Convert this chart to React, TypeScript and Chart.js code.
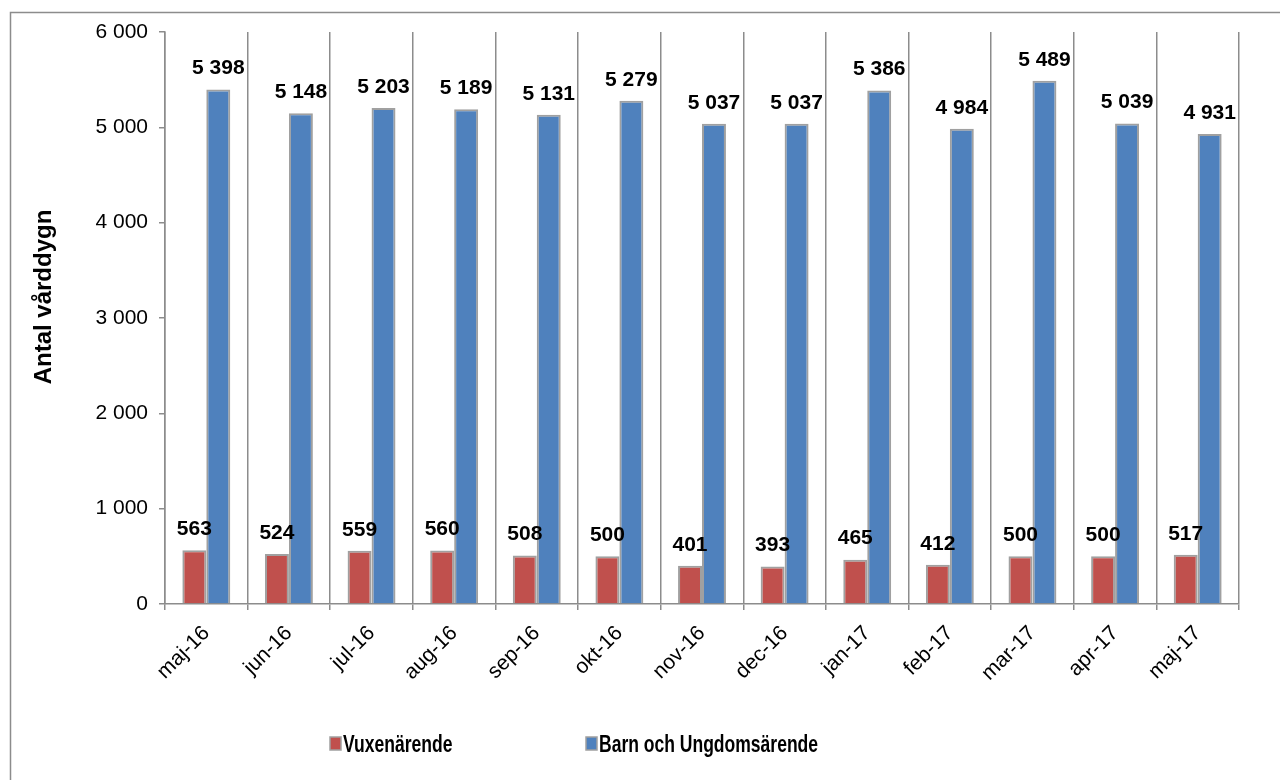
import React, { useEffect, useRef } from 'react';
import { Chart, registerables } from 'chart.js';

Chart.register(...registerables);

const categories = ['maj-16', 'jun-16', 'jul-16', 'aug-16', 'sep-16', 'okt-16', 'nov-16', 'dec-16', 'jan-17', 'feb-17', 'mar-17', 'apr-17', 'maj-17'];
const vuxenValues = [563, 524, 559, 560, 508, 500, 401, 393, 465, 412, 500, 500, 517];
const barnValues = [5398, 5148, 5203, 5189, 5131, 5279, 5037, 5037, 5386, 4984, 5489, 5039, 4931];
const seriesNames = ['Vuxenärende', 'Barn och Ungdomsärende'];
const seriesColors = ['#C0504D', '#4F81BD'];
const yAxisTitle = 'Antal vårddygn';
const yMin = 0;
const yMax = 6000;
const yStep = 1000;

const FONT = '"Liberation Sans", Arial, Helvetica, sans-serif';
const GRAY = '#8C8C8C';

const fmt = (v: number) => String(v).replace(/\B(?=(\d{3})+(?!\d))/g, ' ');

const framePlugin = {
  id: 'frame',
  beforeDraw(chart: any) {
    const ctx = chart.ctx;
    ctx.save();
    ctx.fillStyle = '#ffffff';
    ctx.fillRect(0, 0, chart.width, chart.height);
    ctx.strokeStyle = GRAY;
    ctx.lineWidth = 1.5;
    ctx.beginPath();
    ctx.moveTo(10.5, chart.height);
    ctx.lineTo(10.5, 12.5);
    ctx.lineTo(chart.width, 12.5);
    ctx.stroke();
    ctx.restore();
  },
};

const yTitlePlugin = {
  id: 'yTitle',
  afterDraw(chart: any) {
    const ctx = chart.ctx;
    ctx.save();
    ctx.translate(44, 297);
    ctx.rotate(-Math.PI / 2);
    ctx.font = `bold 24px ${FONT}`;
    ctx.fillStyle = '#000';
    ctx.textAlign = 'center';
    ctx.textBaseline = 'middle';
    ctx.fillText(yAxisTitle, 0, 0);
    ctx.restore();
  },
};

const valueLabelPlugin = {
  id: 'valueLabels',
  afterDatasetsDraw(chart: any) {
    const ctx = chart.ctx;
    ctx.save();
    ctx.font = `bold 21px ${FONT}`;
    ctx.fillStyle = '#000';
    ctx.textAlign = 'center';
    ctx.textBaseline = 'middle';
    chart.data.datasets.forEach((ds: any, i: number) => {
      const meta = chart.getDatasetMeta(i);
      meta.data.forEach((el: any, j: number) => {
        const { x, y } = el.getProps(['x', 'y'], true);
        ctx.fillText(fmt(ds.data[j]), x, y - 21);
      });
    });
    ctx.restore();
  },
};

const legendPlugin = {
  id: 'customLegend',
  afterDraw(chart: any) {
    const ctx = chart.ctx;
    const items = chart.data.datasets;
    const xs = [330, 586];
    const y = 745;
    ctx.save();
    items.forEach((ds: any, i: number) => {
      const bx = xs[i];
      ctx.fillStyle = ds.backgroundColor;
      ctx.fillRect(bx, y - 8, 11, 13);
      ctx.strokeStyle = '#A0A0A0';
      ctx.lineWidth = 1.5;
      ctx.strokeRect(bx, y - 8, 11, 13);
      ctx.save();
      ctx.translate(bx + 13, y);
      ctx.scale(0.73, 1);
      ctx.font = `bold 24px ${FONT}`;
      ctx.fillStyle = '#000';
      ctx.textAlign = 'left';
      ctx.textBaseline = 'middle';
      ctx.fillText(ds.label, 0, 0);
      ctx.restore();
    });
    ctx.restore();
  },
};

export default function App() {
  const canvasRef = useRef<HTMLCanvasElement | null>(null);

  useEffect(() => {
    document.body.style.margin = '0';
    const canvas = canvasRef.current;
    if (!canvas) return;
    const chart = new Chart(canvas, {
      type: 'bar',
      data: {
        labels: categories,
        datasets: [
          {
            label: seriesNames[0],
            data: vuxenValues,
            backgroundColor: seriesColors[0],
            borderColor: '#A0A0A0',
            borderWidth: 2,
            categoryPercentage: 0.58,
            barPercentage: 1,
          },
          {
            label: seriesNames[1],
            data: barnValues,
            backgroundColor: seriesColors[1],
            borderColor: '#A0A0A0',
            borderWidth: 2,
            categoryPercentage: 0.58,
            barPercentage: 1,
          },
        ],
      },
      options: {
        responsive: false,
        animation: false,
        devicePixelRatio: 1,
        layout: { padding: { top: 32, left: 0, right: 41, bottom: 76 } },
        plugins: {
          legend: { display: false },
          tooltip: { enabled: false },
        },
        scales: {
          x: {
            grid: { offset: true, color: GRAY, lineWidth: 1.5, tickLength: 6, drawOnChartArea: true },
            border: { color: GRAY, width: 1.5 },
            ticks: {
              maxRotation: 45,
              minRotation: 45,
              color: '#000',
              font: { family: FONT, size: 21 },
              padding: 11,
            },
            afterFit: (s: any) => {
              s.height = 100;
            },
          },
          y: {
            min: yMin,
            max: yMax,
            ticks: {
              stepSize: yStep,
              callback: (v: any) => fmt(Number(v)),
              color: '#000',
              font: { family: FONT, size: 21 },
              padding: 11,
            },
            grid: { drawOnChartArea: false, tickLength: 6, color: GRAY, lineWidth: 1.5 },
            border: { color: GRAY, width: 1.5 },
            title: { display: false },
            afterFit: (s: any) => {
              s.width = 165;
            },
          },
        },
      },
      plugins: [framePlugin, valueLabelPlugin, legendPlugin, yTitlePlugin],
    } as any);
    return () => chart.destroy();
  }, []);

  return (
    <div style={{ width: 1280, height: 780 }}>
      <canvas ref={canvasRef} width={1280} height={780} style={{ display: 'block' }} />
    </div>
  );
}
